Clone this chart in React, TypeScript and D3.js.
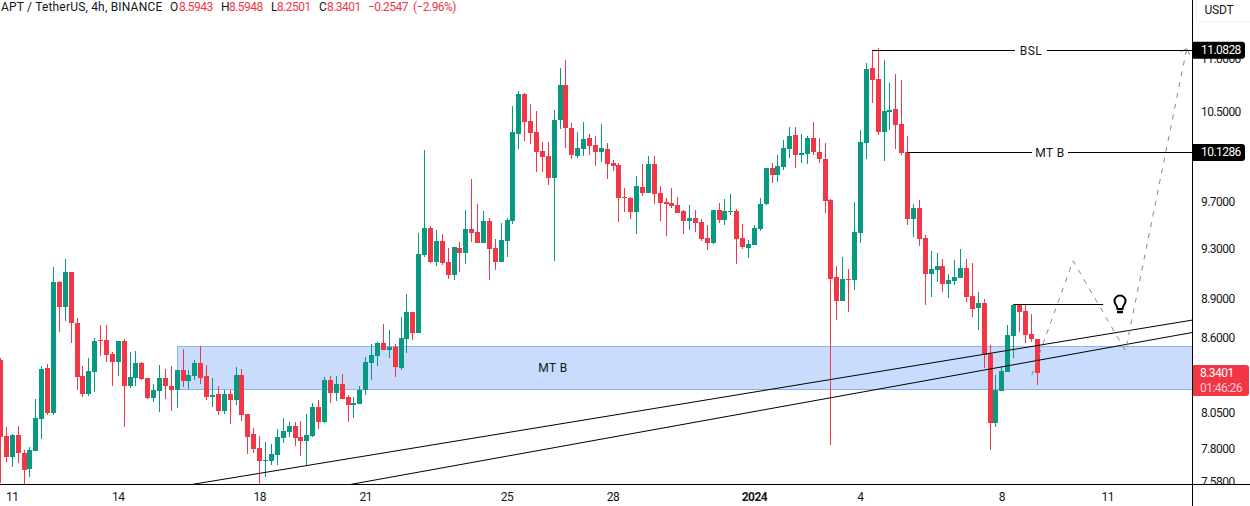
import * as d3 from "d3";

const WIDTH = 1250;
const HEIGHT = 506;
const PLOT_RIGHT = 1192;
const PLOT_BOTTOM = 484;

const GREEN = "#089981";
const RED = "#f23645";
const INK = "#131722";
const FONT = "Roboto, 'Liberation Sans', sans-serif";
const NUM_SPACING = -0.55;

// 4h candles, first one is Dec 10 16:00
const opens = [
  8.435, 7.888, 7.743, 7.895, 7.77, 7.662, 7.784, 8.007, 8.375, 8.05,
  9.036, 8.839, 9.117, 8.715, 8.316, 8.186, 8.346, 8.585, 8.585, 8.48,
  8.42, 8.578, 8.244, 8.302, 8.413, 8.302, 8.157, 8.207, 8.302, 8.244,
  8.215, 8.361, 8.28, 8.316, 8.413, 8.316, 8.164, 8.186, 8.064, 8.186,
  8.142, 8.324, 8.043, 7.902, 7.805, 7.716, 7.716, 7.757, 7.874, 7.916,
  7.958, 7.881, 7.853, 7.888, 8.092, 7.986, 8.287, 8.193, 8.258, 8.164,
  8.106, 8.114, 8.215, 8.413, 8.465, 8.563, 8.51, 8.532, 8.375, 8.593,
  8.8, 8.639, 9.254, 9.477, 9.197, 9.369, 9.197, 9.093, 9.311, 9.27,
  9.468, 9.443, 9.352, 9.536, 9.311, 9.197, 9.369, 9.536, 10.296, 10.665,
  10.415, 10.314, 10.143, 10.099, 9.905, 10.424, 10.75, 10.35, 10.099, 10.161,
  10.26, 10.197, 10.134, 10.161, 10.036, 10.019, 9.74, 9.731, 9.612, 9.826,
  9.774, 10.027, 9.774, 9.697, 9.688, 9.671, 9.62, 9.536, 9.561, 9.527,
  9.393, 9.352, 9.629, 9.544, 9.612, 9.62, 9.393, 9.311, 9.336, 9.468,
  9.68, 9.991, 9.93, 10.001, 10.161, 10.287, 10.108, 10.117, 10.26, 10.134,
  10.072, 9.714, 9.076, 8.886, 9.06, 9.052, 9.435, 10.215, 10.913, 10.808,
  10.314, 10.497, 10.525, 10.387, 10.134, 9.552, 9.646, 9.393, 9.101, 9.133,
  9.165, 9.02, 9.044, 9.068, 9.149, 8.926, 8.831, 8.87, 8.48, 7.979,
  8.207, 8.346, 8.616, 8.855, 8.808, 8.631, 8.5943,
];
const highs = [
  8.45, 7.951, 7.902, 7.958, 7.791, 7.812, 8.149, 8.39, 8.405, 9.157,
  9.044, 9.221, 9.117, 8.754, 8.39, 8.45, 8.6, 8.7, 8.7, 8.495,
  8.578, 8.593, 8.495, 8.502, 8.42, 8.302, 8.258, 8.398, 8.368, 8.39,
  8.361, 8.517, 8.361, 8.435, 8.54, 8.398, 8.302, 8.244, 8.215, 8.215,
  8.383, 8.368, 8.043, 7.944, 7.888, 7.846, 7.832, 7.937, 8.014, 7.986,
  7.986, 7.993, 8.043, 8.121, 8.142, 8.309, 8.316, 8.316, 8.331, 8.179,
  8.164, 8.244, 8.457, 8.555, 8.57, 8.707, 8.662, 8.555, 8.761, 8.942,
  8.8, 9.435, 10.152, 9.493, 9.46, 9.427, 9.311, 9.319, 9.36, 9.629,
  9.896, 9.68, 9.62, 9.561, 9.385, 9.519, 9.561, 10.553, 10.694, 10.675,
  10.572, 10.507, 10.224, 10.224, 10.516, 10.913, 10.99, 10.396, 10.314, 10.406,
  10.296, 10.278, 10.387, 10.215, 10.063, 10.036, 9.817, 9.74, 9.922, 10.027,
  10.099, 10.099, 9.835, 9.731, 9.817, 9.74, 9.629, 9.671, 9.629, 9.552,
  9.502, 9.629, 9.688, 9.723, 9.765, 9.637, 9.51, 9.377, 9.502, 9.731,
  9.991, 10.036, 10.108, 10.242, 10.36, 10.36, 10.296, 10.278, 10.406, 10.26,
  10.215, 9.723, 9.165, 9.237, 9.141, 9.697, 10.332, 10.961, 11.088, 11.105,
  10.99, 10.77, 10.856, 10.798, 10.278, 9.68, 9.714, 9.418, 9.287, 9.27,
  9.221, 9.101, 9.213, 9.303, 9.221, 9.189, 8.957, 8.902, 8.547, 8.324,
  8.383, 8.7, 8.863, 8.855, 8.855, 8.785, 8.5948,
];
const lows = [
  7.568, 7.709, 7.675, 7.702, 7.554, 7.608, 7.784, 7.867, 8.036, 8.036,
  8.647, 8.73, 8.563, 8.215, 8.164, 8.171, 8.2, 8.465, 8.42, 8.244,
  8.316, 7.951, 8.229, 8.244, 8.287, 8.149, 8.128, 8.057, 8.149, 8.064,
  8.085, 8.237, 8.222, 8.287, 8.258, 8.142, 8.092, 8.036, 8.043, 7.972,
  8.106, 7.993, 7.764, 7.77, 7.554, 7.608, 7.689, 7.689, 7.839, 7.881,
  7.819, 7.75, 7.682, 7.881, 7.937, 7.979, 8.121, 8.135, 8.149, 7.986,
  8.014, 8.114, 8.179, 8.287, 8.39, 8.51, 8.45, 8.309, 8.361, 8.487,
  8.585, 8.639, 9.237, 9.189, 9.165, 9.173, 9.06, 9.052, 9.117, 9.181,
  9.36, 9.352, 9.352, 9.052, 9.133, 9.197, 9.237, 9.51, 10.161, 10.233,
  10.206, 9.957, 9.957, 9.843, 9.205, 10.341, 10.17, 10.072, 10.081, 10.099,
  10.108, 10.01, 10.045, 9.896, 9.965, 9.527, 9.612, 9.552, 9.427, 9.748,
  9.774, 9.68, 9.536, 9.41, 9.646, 9.603, 9.427, 9.46, 9.443, 9.369,
  9.295, 9.344, 9.519, 9.502, 9.586, 9.181, 9.303, 9.229, 9.336, 9.452,
  9.671, 9.861, 9.87, 9.974, 10.081, 9.991, 10.036, 10.027, 10.108, 10.036,
  9.603, 7.825, 8.738, 8.886, 8.8, 8.973, 9.352, 10.072, 10.581, 10.287,
  10.054, 10.332, 10.161, 10.108, 9.502, 9.402, 9.328, 8.855, 8.918, 9.036,
  8.957, 8.91, 9.012, 9.068, 8.878, 8.761, 8.662, 8.375, 7.791, 7.951,
  8.207, 8.346, 8.45, 8.647, 8.563, 8.57, 8.2501,
];
const closes = [
  7.881, 7.743, 7.895, 7.77, 7.655, 7.791, 8.014, 8.368, 8.05, 9.036,
  8.839, 9.117, 8.715, 8.309, 8.186, 8.354, 8.578, 8.578, 8.472, 8.42,
  8.578, 8.244, 8.309, 8.413, 8.294, 8.157, 8.215, 8.302, 8.244, 8.215,
  8.361, 8.28, 8.324, 8.413, 8.302, 8.164, 8.179, 8.064, 8.186, 8.142,
  8.324, 8.036, 7.881, 7.798, 7.716, 7.723, 7.764, 7.881, 7.923, 7.958,
  7.874, 7.853, 7.895, 8.092, 7.986, 8.287, 8.193, 8.258, 8.149, 8.106,
  8.121, 8.215, 8.42, 8.472, 8.563, 8.51, 8.532, 8.383, 8.6, 8.8,
  8.639, 9.262, 9.477, 9.197, 9.369, 9.189, 9.093, 9.319, 9.27, 9.468,
  9.435, 9.352, 9.536, 9.303, 9.197, 9.377, 9.544, 10.314, 10.665, 10.406,
  10.305, 10.134, 10.09, 9.905, 10.424, 10.75, 10.35, 10.108, 10.17, 10.251,
  10.188, 10.134, 10.17, 10.027, 10.01, 9.731, 9.731, 9.612, 9.835, 9.774,
  10.027, 9.765, 9.688, 9.68, 9.663, 9.603, 9.536, 9.561, 9.519, 9.385,
  9.352, 9.629, 9.544, 9.62, 9.62, 9.385, 9.319, 9.344, 9.477, 9.68,
  9.991, 9.93, 10.01, 10.17, 10.278, 10.108, 10.125, 10.26, 10.134, 10.072,
  9.705, 9.06, 8.886, 9.06, 9.052, 9.443, 10.224, 10.903, 10.798, 10.314,
  10.507, 10.516, 10.378, 10.125, 9.552, 9.646, 9.385, 9.101, 9.141, 9.165,
  9.02, 9.052, 9.076, 9.149, 8.918, 8.824, 8.87, 8.472, 7.979, 8.215,
  8.354, 8.623, 8.855, 8.8, 8.623, 8.593, 8.3401,
];

const priceTicks = [11, 10.5, 9.7, 9.3, 8.9, 8.6, 8.05, 7.8, 7.58];
const dateLabels = ["11", "14", "18", "21", "25", "28", "2024", "4", "8", "11"];
const dateIndexes = [2, 20, 44, 62, 86, 104, 128, 146, 170, 188];

// drawings, in candle index / price
const zone = { from: 30, top: 8.54, bottom: 8.222 };
const trendA: [number, number][] = [[31.5, 7.554], [202.3, 8.738]];
const trendB: [number, number][] = [[58.5, 7.554], [202.3, 8.643]];
const forecast: [number, number][] = [[175.07, 8.324], [182.1, 9.207], [191, 8.505], [201.4, 11.098]];
const bslLevel = 11.0828;
const mtbLevel = 10.1286;
const highLevel = 8.86;

const xScale = d3.scaleLinear().domain([0, 1]).range([0.5, 6.39]);
const yScale = d3.scaleLog().domain([bslLevel, 7.58]).range([50.3, 481.5]);

const trendLine = d3.line<[number, number]>()
  .x((d) => xScale(d[0]))
  .y((d) => yScale(d[1]));

const fmt = d3.format(".4f");

const Candles = () => (
  <g>
    {opens.map((open, i) => {
      const close = closes[i];
      const color = close >= open ? GREEN : RED;
      const px = Math.floor(xScale(i));
      const top = Math.round(yScale(Math.max(open, close)));
      const bottom = Math.round(yScale(Math.min(open, close)));
      const hi = Math.round(yScale(highs[i]));
      const lo = Math.round(yScale(lows[i]));
      return (
        <g key={i} fill={color}>
          <rect x={px} y={hi} width={1} height={lo - hi} />
          <rect x={px - 2} y={top} width={5} height={Math.max(1, bottom - top)} />
        </g>
      );
    })}
  </g>
);

const LevelLine = ({ from, price, label, labelX, gap }: { from: number; price: number; label: string; labelX: number; gap: number }) => {
  const y = Math.round(yScale(price)) + 0.5;
  return (
    <g>
      <line x1={xScale(from)} x2={labelX - gap} y1={y} y2={y} stroke="#000" />
      <line x1={labelX + gap} x2={PLOT_RIGHT} y1={y} y2={y} stroke="#000" />
      <text x={labelX} y={y + 4} textAnchor="middle" fontSize={12} letterSpacing={0.4} fill={INK} fontFamily={FONT}>
        {label}
      </text>
    </g>
  );
};

const PriceTag = ({ price }: { price: number }) => {
  const y = yScale(price);
  return (
    <g>
      <path d={`M${PLOT_RIGHT} ${y - 8.5}h50a3 3 0 0 1 3 3v11a3 3 0 0 1 -3 3h-50z`} fill="#000" />
      <text x={1201} y={y + 4} fontSize={12} letterSpacing={NUM_SPACING} fill="#fff" fontFamily={FONT}>
        {fmt(price)}
      </text>
    </g>
  );
};

export default function App() {
  const zoneX = Math.floor(xScale(zone.from)) + 0.5;
  const zoneTop = Math.round(yScale(zone.top)) + 0.5;
  const zoneBottom = Math.round(yScale(zone.bottom)) + 0.5;
  const lastClose = closes[closes.length - 1];
  const lastY = yScale(lastClose);
  const highY = Math.round(yScale(highLevel)) + 0.5;
  const end = forecast[forecast.length - 1];
  const endX = xScale(end[0]);
  const endY = yScale(end[1]);

  return (
    <svg width={WIDTH} height={HEIGHT} style={{ position: "absolute", left: 0, top: 0, display: "block", background: "#fff" }}>
      <defs>
        <clipPath id="plot">
          <rect x={0} y={0} width={PLOT_RIGHT} height={PLOT_BOTTOM} />
        </clipPath>
        <clipPath id="scale">
          <rect x={PLOT_RIGHT} y={0} width={WIDTH - PLOT_RIGHT} height={PLOT_BOTTOM} />
        </clipPath>
      </defs>

      <g clipPath="url(#plot)">
        <rect x={zoneX} y={zoneTop} width={PLOT_RIGHT - zoneX + 2} height={zoneBottom - zoneTop} fill="#cadcfb" stroke="#8ab1f0" />
        <text x={553} y={372} textAnchor="middle" fontSize={12} letterSpacing={0.4} fill={INK} fontFamily={FONT}>
          MT B
        </text>
        <Candles />
        <path d={trendLine(trendA) ?? ""} fill="none" stroke="#000" />
        <path d={trendLine(trendB) ?? ""} fill="none" stroke="#000" />
        <path d={trendLine(forecast) ?? ""} fill="none" stroke="#868993" strokeDasharray="5 6" />
        <path d={`M${endX - 6} ${endY + 3}L${endX} ${endY}L${endX + 3} ${endY + 6}`} fill="none" stroke="#868993" />
        <LevelLine from={148} price={bslLevel} label="BSL" labelX={1031} gap={16} />
        <LevelLine from={154} price={mtbLevel} label="MT B" labelX={1050} gap={18} />
        <line x1={xScale(172)} x2={xScale(187.2)} y1={highY} y2={highY} stroke="#000" />
        {/* bulb note icon */}
        <g transform="translate(1120 302)" fill="none" stroke="#000" strokeWidth={2}>
          <path d="M-2.5 7C-2.5 3.5 -5.5 2.5 -5.5 -1A5.5 5.5 0 0 1 5.5 -1C5.5 2.5 2.5 3.5 2.5 7Z" />
          <path d="M-3 10H3" strokeWidth={2.5} />
        </g>
      </g>

      {/* price scale */}
      <g clipPath="url(#scale)" fontSize={12} letterSpacing={NUM_SPACING} fill={INK} fontFamily={FONT}>
        {priceTicks.map((tick) => (
          <text key={tick} x={1201} y={yScale(tick) + 4}>
            {fmt(tick)}
          </text>
        ))}
      </g>
      <PriceTag price={bslLevel} />
      <PriceTag price={mtbLevel} />
      <path d={`M${PLOT_RIGHT} 365h54a3 3 0 0 1 3 3v25a3 3 0 0 1 -3 3h-54z`} fill={RED} />
      <text x={1200} y={lastY + 4} fontSize={12} letterSpacing={NUM_SPACING} fill="#fff" fontFamily={FONT}>
        {fmt(lastClose)}
      </text>
      <text x={1200} y={392} fontSize={12} letterSpacing={NUM_SPACING} fill="#fff" fillOpacity={0.75} fontFamily={FONT}>
        01:46:26
      </text>

      <line x1={0} x2={WIDTH} y1={PLOT_BOTTOM + 0.5} y2={PLOT_BOTTOM + 0.5} stroke="#000" />
      <line x1={PLOT_RIGHT + 0.5} x2={PLOT_RIGHT + 0.5} y1={0} y2={HEIGHT} stroke="#000" />

      {/* date axis */}
      <g fontSize={12} letterSpacing={NUM_SPACING} fill={INK} fontFamily={FONT} textAnchor="middle">
        {dateLabels.map((label, i) => (
          <text key={i} x={xScale(dateIndexes[i])} y={501} fontWeight={label === "2024" ? 700 : 400}>
            {label}
          </text>
        ))}
      </g>

      {/* header */}
      <g fontSize={12} fontFamily={FONT}>
        <text x={1} y={11} fill={INK} letterSpacing={0.19}>APT / TetherUS, 4h, BINANCE</text>
        <g letterSpacing={NUM_SPACING}>
          <text x={170} y={11} fill={INK}>O</text>
          <text x={179} y={11} fill={RED}>8.5943</text>
          <text x={221} y={11} fill={INK}>H</text>
          <text x={229} y={11} fill={RED}>8.5948</text>
          <text x={271} y={11} fill={INK}>L</text>
          <text x={277} y={11} fill={RED}>8.2501</text>
          <text x={319} y={11} fill={INK}>C</text>
          <text x={327} y={11} fill={RED}>8.3401</text>
          <text x={368} y={11} fill={RED}>−0.2547</text>
          <text x={413} y={11} fill={RED}>(−2.96%)</text>
        </g>
      </g>

      {/* currency button */}
      <rect x={1196.5} y={-4} width={60} height={26} rx={4} fill="#fff" stroke="#eceef2" />
      <text x={1219} y={14} textAnchor="middle" fontSize={12} letterSpacing={-0.2} fill={INK} fontFamily={FONT}>USDT</text>
    </svg>
  );
}
